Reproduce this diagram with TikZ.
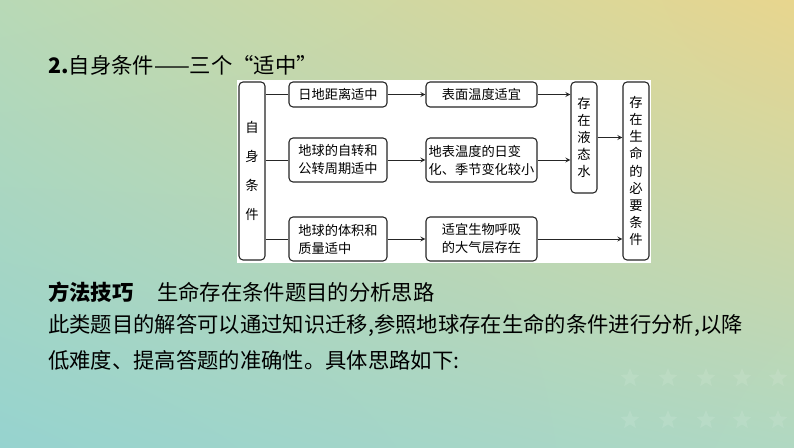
\documentclass[tikz,border=0pt]{standalone}
\usepackage{fontspec}
\setmainfont{Noto Sans CJK SC}
\usepackage{tikz}
\usetikzlibrary{
    arrows,
    shapes,
    shadings,
    calc,
    positioning
}
\definecolor{bgul}{RGB}{184,217,182}
\definecolor{bgur}{RGB}{232,214,142}
\definecolor{bgll}{RGB}{150,211,207}
\definecolor{bglr}{RGB}{176,216,194}
\tikzset{
    bx/.style={draw=black!85, line width=0.8pt, rounded corners=3pt, fill=white,
        inner sep=1.5pt, align=left, font=\fontsize{9.9pt}{13.5pt}\selectfont},
    vbx/.style={draw=black!85, line width=0.8pt, rounded corners=3pt, fill=white,
        minimum width=19.5pt, inner sep=1pt, align=center},
    txt/.style={anchor=west, inner sep=0pt, font=\fontsize{16pt}{20pt}\selectfont},
    ln/.style={draw=black!85, line width=0.7pt},
    star5/.style={star, star points=5, star point ratio=2.3, fill=white,
        fill opacity=0.1, minimum size=15pt, inner sep=0pt}
}

\begin{document}
\begin{tikzpicture}[x=0.75pt, y=-0.75pt, >=stealth]
                        % background
                        \useasboundingbox (0, 0) rectangle (794, 448);
                        \shade[upper left=bgul, upper right=bgur,
                               lower left=bgll, lower right=bglr]
                        (0, 0) rectangle (794, 448);
                        \foreach \sx in {630, 668, 706, 742, 778}
                            \foreach \sy in {378, 420}
                                \node[star5] at (\sx, \sy) {};

                        % title
                        \node[txt] (title) at (48, 65) {\textbf{2.}自身条件——三个“适中”};

                        % diagram panel
                        \fill[white] (237, 80) rectangle (651, 263);

                        \node[vbx, minimum height=133.5pt,
                            font=\fontsize{10pt}{21.75pt}\selectfont]
                            (zishen) at (252, 171) {自\\身\\条\\件};

                        \node[bx, minimum width=73.5pt, minimum height=18.75pt] (rdjl) at (338, 94.5) {日地距离适中};
                        \node[bx, minimum width=73.5pt, minimum height=33pt] (zzgz) at (338, 160) {地球的自转和\\公转周期适中};
                        \node[bx, minimum width=73.5pt, minimum height=33pt] (tjzl) at (338, 239) {地球的体积和\\质量适中};

                        \node[bx, minimum width=83.25pt, minimum height=18.75pt] (bmwd) at (481.5, 94.5) {表面温度适宜};
                        \node[bx, minimum width=83.25pt, minimum height=33pt] (wdbh) at (481.5, 160) {地表温度的日变\\化、季节变化较小};
                        \node[bx, minimum width=83.25pt, minimum height=33pt] (dqc) at (481.5, 239) {适宜生物呼吸\\的大气层存在};

                        \node[vbx, minimum height=83.25pt,
                            font=\fontsize{10pt}{12.9pt}\selectfont]
                            (shui) at (584, 137.5) {存\\在\\液\\态\\水};
                        \node[vbx, minimum height=133.5pt,
                            font=\fontsize{10pt}{12.9pt}\selectfont]
                            (sming) at (636, 171) {存\\在\\生\\命\\的\\必\\要\\条\\件};

                        \draw[ln] (zishen.east |- rdjl.west) -- (rdjl.west);
                        \draw[ln] (zishen.east |- zzgz.west) -- (zzgz.west);
                        \draw[ln] (zishen.east |- tjzl.west) -- (tjzl.west);

                        \draw[ln, ->] (rdjl.east) -- (bmwd.west);
                        \draw[ln, ->] (zzgz.east) -- (wdbh.west);
                        \draw[ln, ->] (tjzl.east) -- (dqc.west);

                        \draw[ln, ->] (bmwd.east) -- (bmwd.east -| shui.west);
                        \draw[ln, ->] (wdbh.east) -- (wdbh.east -| shui.west);
                        \draw[ln, ->] (shui.east) -- (shui.east -| sming.west);
                        \draw[ln, ->] (dqc.east) -- (dqc.east -| sming.west);

                        % method text
                        \node[txt] (ff) at (48, 292) {\textbf{方法技巧}};
                        \node[txt] (fftitle) at (157, 292) {生命存在条件题目的分析思路};
                        \node[txt] (para1) at (48, 325) {此类题目的解答可以通过知识迁移,参照地球存在生命的条件进行分析,以降};
                        \node[txt] (para2) at (48, 360) {低难度、提高答题的准确性。具体思路如下:};
                    \end{tikzpicture}
\end{document}
